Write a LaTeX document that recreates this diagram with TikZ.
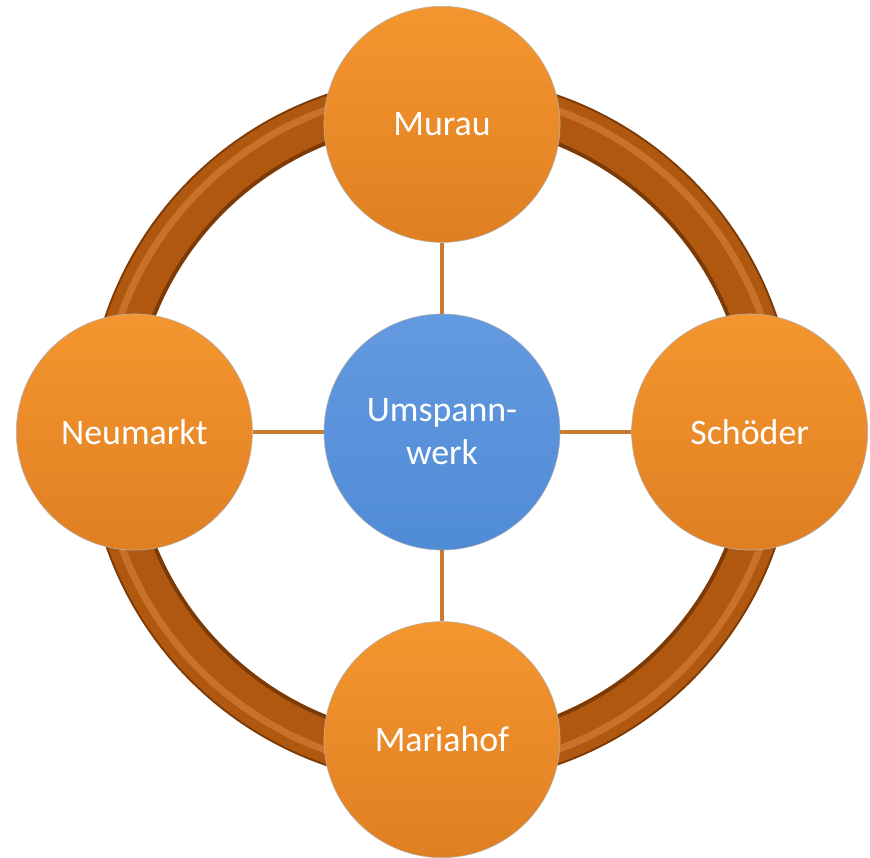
\documentclass[tikz,border=0pt]{standalone}
\usepackage{fontspec}
\setmainfont{Carlito}
\usetikzlibrary{positioning}

\definecolor{orangelight}{HTML}{F4962F}
\definecolor{orangedark}{HTML}{E07F22}
\definecolor{bluelight}{HTML}{6399E0}
\definecolor{bluedark}{HTML}{508CD6}
\definecolor{ringbrown}{HTML}{B05810}
\definecolor{ringdark}{HTML}{7C3A06}
\definecolor{ringlight}{HTML}{C77228}
\definecolor{linkbrown}{HTML}{C97A35}

\begin{document}
\begin{tikzpicture}[x=0.025cm, y=-0.025cm,
    spot/.style={circle, draw=gray!60, thin, minimum size=5.9cm, inner sep=0pt,
        text=white, font=\fontsize{25.5}{30.5}\selectfont,
        top color=orangelight, bottom color=orangedark},
    hub/.style={spot, top color=bluelight, bottom color=bluedark, align=center},
    link/.style={draw=linkbrown, line width=3.5pt},
    node distance=1.775cm]
    \useasboundingbox (0,0) rectangle (870,857);

    \draw[ringdark, line width=1.2cm] (441,430) circle (331); % Ring edge
    \draw[ringbrown, line width=1.05cm] (441,430) circle (332); % Ring body
    \draw[ringlight, line width=5pt] (441,430) circle (340); % Ring highlight

    \node[hub] (werk) at (442,432) {Umspann-\\werk};
    \node[spot, above=of werk] (murau) {Murau};
    \node[spot, left=of werk] (neumarkt) {Neumarkt};
    \node[spot, right=of werk] (schoeder) {Schöder};
    \node[spot, below=of werk] (mariahof) {Mariahof};

    \draw[link] (werk) -- (murau); % Top spoke
    \draw[link] (werk) -- (neumarkt); % Left spoke
    \draw[link] (werk) -- (schoeder); % Right spoke
    \draw[link] (werk) -- (mariahof); % Bottom spoke
\end{tikzpicture}
\end{document}
